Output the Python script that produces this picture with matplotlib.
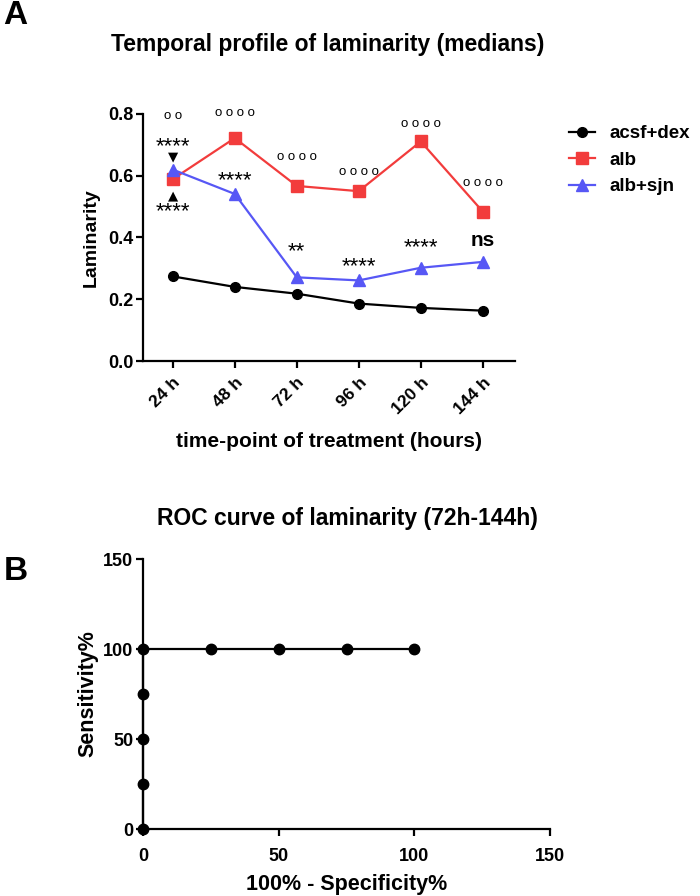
import matplotlib
matplotlib.use('Agg')
import matplotlib.pyplot as plt

plt.rcParams['font.family'] = ['Liberation Sans', 'DejaVu Sans']

# DATOS - painel A
tempos = ['24 h', '48 h', '72 h', '96 h', '120 h', '144 h']
acsf_dex = [0.274, 0.240, 0.218, 0.186, 0.172, 0.163]
alb = [0.589, 0.722, 0.567, 0.550, 0.711, 0.484]
alb_sjn = [0.620, 0.541, 0.271, 0.261, 0.302, 0.321]

# anotacoes (texto, altura)
circulos = ['o o', 'o o o o', 'o o o o', 'o o o o', 'o o o o', 'o o o o']
circ_y = [0.793, 0.803, 0.661, 0.612, 0.768, 0.577]
estrelas = ['****', '****', '**', '****', '****', 'ns']
estr_y = [0.693, 0.583, 0.353, 0.304, 0.366, 0.389]

# DATOS - painel B (ROC)
espec = [0, 0, 0, 0, 0, 25, 50, 75, 100]
sens = [0, 25, 50, 75, 100, 100, 100, 100, 100]

fig = plt.figure(figsize=(7, 8.96), dpi=100)

def estilo(ax, xpad):
    for s in ['top', 'right']:
        ax.spines[s].set_visible(False)
    for s in ['left', 'bottom']:
        ax.spines[s].set_linewidth(1.6)
    ax.tick_params(width=1.6, length=5, labelsize=13)
    ax.tick_params(axis='x', pad=xpad)
    ax.tick_params(axis='y', pad=2)
    for t in ax.get_xticklabels() + ax.get_yticklabels():
        t.set_fontweight('bold')

# PAINEL A
ax1 = fig.add_axes([143/700, 1-361/896, (515-143)/700, (361-114)/896])
x = list(range(len(tempos)))
ax1.plot(x, acsf_dex, '-o', color='black', lw=1.6, ms=7, label='acsf+dex', clip_on=False)
ax1.plot(x, alb, '-s', color='#f23c3c', lw=1.6, ms=8, label='alb', clip_on=False)
ax1.plot(x, alb_sjn, '-^', color='#5757f5', lw=1.6, ms=8.5, label='alb+sjn', clip_on=False)
ax1.set_xlim(-0.48, 5.52)
ax1.set_ylim(0, 0.8)
ax1.set_yticks([0.0, 0.2, 0.4, 0.6, 0.8])
ax1.set_xticks(x)
ax1.set_xticklabels(tempos, rotation=45, ha='right', rotation_mode='anchor')
estilo(ax1, 5)
for t in ax1.get_xticklabels():
    t.set_fontsize(12.5)
ax1.set_ylabel('Laminarity', fontsize=14, fontweight='bold', labelpad=6)
ax1.set_xlabel('time-point of treatment (hours)', fontsize=15, fontweight='bold', labelpad=11)
fig.text(328/700, 1-45/896, 'Temporal profile of laminarity (medians)', fontsize=16.5,
         fontweight='bold', ha='center', va='center')

for i in x:
    ax1.text(i, circ_y[i], circulos[i], ha='center', va='center', fontsize=9.5)
    if estrelas[i] == 'ns':
        ax1.text(i, estr_y[i], 'ns', ha='center', va='center', fontsize=15, fontweight='bold')
    else:
        ax1.text(i, estr_y[i], estrelas[i], ha='center', va='center', fontsize=16)
# segunda marca em 24 h (alb+sjn vs alb)
ax1.text(0, 0.483, '****', ha='center', va='center', fontsize=16)
ax1.text(0, 0.662, '\u25bc', ha='center', va='center', fontsize=9.5, family='DejaVu Sans')
ax1.text(0, 0.534, '\u25b2', ha='center', va='center', fontsize=9.5, family='DejaVu Sans')

leg = ax1.legend(loc='upper left', bbox_to_anchor=(1.125, 0.985), frameon=False,
                 prop={'size': 13.5, 'weight': 'bold'}, handlelength=1.4,
                 labelspacing=0.5, handletextpad=0.78, borderaxespad=0)

fig.text(3/700, 1-16/896, 'A', fontsize=24, fontweight='bold', va='center', ha='left')

# PAINEL B
ax2 = fig.add_axes([143/700, 1-829/896, (550-143)/700, (829-559)/896])
ax2.plot(espec, sens, '-o', color='black', lw=1.6, ms=7.5, clip_on=False, zorder=3)
ax2.set_xlim(0, 150)
ax2.set_ylim(0, 150)
ax2.set_xticks([0, 50, 100, 150])
ax2.set_yticks([0, 50, 100, 150])
estilo(ax2, 9)
ax2.set_xlabel('100% - Specificity%', fontsize=15.5, fontweight='bold', labelpad=6)
ax2.set_ylabel('Sensitivity%', fontsize=15.5, fontweight='bold', labelpad=3)
fig.text(347/700, 1-519/896, 'ROC curve of laminarity (72h-144h)', fontsize=16.5,
         fontweight='bold', ha='center', va='center')

fig.text(4/700, 1-572/896, 'B', fontsize=24, fontweight='bold', va='center', ha='left')

fig.savefig('out.png', dpi=100)
